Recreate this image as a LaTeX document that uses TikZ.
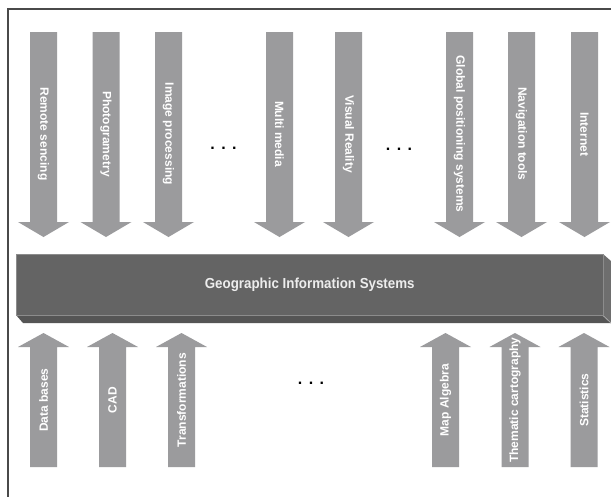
\documentclass[tikz,border=0pt]{standalone}
\usepackage{fontspec}
\setmainfont{Liberation Sans}
\newfontfamily\gisfont[FakeStretch=0.92]{Liberation Sans}
\definecolor{arrowgrey}{HTML}{9B9B9D}
\definecolor{framegrey}{HTML}{4A4A4A}
\definecolor{barfront}{HTML}{646464}
\definecolor{barbottom}{HTML}{555555}
\definecolor{barside}{HTML}{6E6E6E}
\definecolor{baredge}{HTML}{A8A8A8}
\begin{document}
\begin{tikzpicture}[x=1pt,y=-1pt,
  arrowlabel/.style={text=white, font=\bfseries\fontsize{12}{14}\selectfont, inner sep=0pt},
  gislabel/.style={text=white!93!black, font=\gisfont\bfseries\fontsize{14.5}{16}\selectfont, inner sep=0pt},
  dotlabel/.style={font=\bfseries\fontsize{16}{18}\selectfont, inner sep=0pt, anchor=base},
]
% page area and outer frame (its right and bottom sides fall outside the page)
\clip (0,0) rectangle (611,496);
\fill[white] (0,0) rectangle (611,496);
\draw[framegrey, line width=1.8pt] (8,9) rectangle (640,530);

% arrows pointing down into the system
\foreach \cx/\nm/\txt in {43.5/rs/Remote sencing, 106/ph/Photogrametry, 168.5/ip/Image processing,
    279.5/mm/Multi media, 348.5/vr/Visual Reality, 459.5/gps/Global positioning systems,
    521.5/nav/Navigation tools, 584.5/inet/Internet} {
  \fill[arrowgrey] (\cx-13.5,32) -- (\cx+13.5,32) -- (\cx+13.5,222) -- (\cx+25.5,222)
    -- (\cx,237) -- (\cx-25.5,222) -- (\cx-13.5,222) -- cycle;
  \node[arrowlabel, rotate=-90] (\nm) at (\cx,134) {\txt};
}

% arrows pointing up into the system
\foreach \cx/\nm/\txt in {43.5/db/Data bases, 112.5/cad/CAD, 181.5/tr/Transformations,
    445.5/ma/Map Algebra, 515/tc/Thematic cartography, 584/st/Statistics} {
  \fill[arrowgrey] (\cx-13.5,467) -- (\cx+13.5,467) -- (\cx+13.5,347) -- (\cx+25.5,347)
    -- (\cx,333) -- (\cx-25.5,347) -- (\cx-13.5,347) -- cycle;
  \node[arrowlabel, rotate=90] (\nm) at (\cx,400) {\txt};
}

% ellipses between the arrows
\node[dotlabel] (dotsa) at (223.5,149) {.\kern6.5pt.\kern6.5pt.};
\node[dotlabel] (dotsb) at (399,150) {.\kern6.5pt.\kern6.5pt.};
\node[dotlabel] (dotsc) at (311,384) {.\kern6.5pt.\kern6.5pt.};

% the central bar, drawn as a flat box
\fill[barbottom] (16,315) -- (603,315) -- (611,323) -- (23,323) -- cycle;
\fill[barside] (603,254) -- (611,261) -- (611,323) -- (603,315) -- cycle;
\draw[baredge, line width=0.8pt] (16,315.5) -- (603,315.5) -- (611,323);
\draw[baredge, line width=0.6pt] (603,254) -- (603,315);
\node[fill=barfront, draw=black!45, line width=0.5pt, minimum width=587pt, minimum height=61pt,
      inner sep=0pt, anchor=north west] (gisbox) at (16,254) {};
\node[gislabel] (gis) at (gisbox.center) {Geographic Information Systems};
\end{tikzpicture}
\end{document}
